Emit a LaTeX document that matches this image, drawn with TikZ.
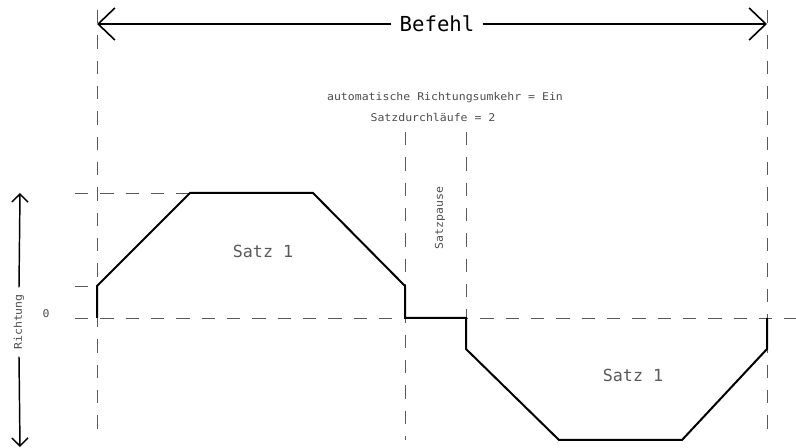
\documentclass[tikz,border=0pt]{standalone}
\usepackage{fontspec}
\newfontfamily\kleinschrift[FakeStretch=1.08]{DejaVu Sans Mono}
\newfontfamily\grossschrift{DejaVu Sans Mono}
\usetikzlibrary{arrows.meta}

\tikzset{
  hilfslinie/.style={draw=black!65, line width=0.6pt, dash pattern=on 10pt off 9pt},
  kurve/.style={line width=1.5pt, line join=miter},
  masspfeil/.style={line width=1.2pt, -{Straight Barb[length=12.5pt, width=24pt, line width=1.2pt]}},
  achspfeil/.style={line width=1.1pt, -{Straight Barb[length=6pt, width=12pt, line width=1.1pt]}},
  beschriftung/.style={text=black!70, font=\kleinschrift\fontsize{8}{9}\selectfont, inner sep=1pt},
  satzname/.style={text=black!65, font=\grossschrift\fontsize{12.5}{14}\selectfont},
}

\begin{document}
\begin{tikzpicture}[x=0.75pt, y=-0.75pt]

    \useasboundingbox (0,0) rectangle (796,448);

    % Hilfslinien senkrecht
    \draw[hilfslinie] (97,10) -- (97,440); % Befehlsanfang
    \draw[hilfslinie] (767,10) -- (767,440); % Befehlsende
    \draw[hilfslinie] (405,132) -- (405,440); % Ende Satz 1
    \draw[hilfslinie] (466,132) -- (466,318); % Ende Satzpause

    % Hilfslinien waagerecht
    \draw[hilfslinie] (75,193) -- (190,193); % obere Stufe
    \draw[hilfslinie] (75,286) -- (97,286); % untere Stufe
    \draw[hilfslinie] (75,318) -- (796,318); % Nulllinie

    % Verlauf
    \coordinate (p0) at (97,318);
    \coordinate (p1) at (97,286);
    \coordinate (p2) at (190,193);
    \coordinate (p3) at (313,193);
    \coordinate (p4) at (405,286);
    \coordinate (p5) at (405,318);
    \coordinate (p6) at (466,318);
    \coordinate (p7) at (466,349);
    \coordinate (p8) at (559,440);
    \coordinate (p9) at (682,440);
    \coordinate (p10) at (767,349);
    \coordinate (p11) at (767,318);
    \draw[kurve] (p0) -- (p1) -- (p2) -- (p3) -- (p4) -- (p5) -- (p6)
        -- (p7) -- (p8) -- (p9) -- (p10) -- (p11);

    % Befehl
    \node[font=\grossschrift\fontsize{15.5}{17}\selectfont, inner sep=6pt] (befehl) at (437,24) {Befehl};
    \coordinate (befehlanfang) at (97,24);
    \coordinate (befehlende) at (767,24);
    \draw[masspfeil] (befehl.west) -- (befehlanfang);
    \draw[masspfeil] (befehl.east) -- (befehlende);

    % Richtung
    \node[beschriftung, rotate=90, inner sep=5pt] (richtung) at (19,322) {Richtung};
    \coordinate (richtungoben) at (20,193);
    \coordinate (richtungunten) at (20,447);
    \draw[achspfeil] (richtung.east) -- (richtungoben);
    \draw[achspfeil] (richtung.west) -- (richtungunten);
    \node[beschriftung] (null) at (46,314) {0};

    % Texte
    \node[beschriftung] (umkehr) at (445,98) {automatische Richtungsumkehr = Ein};
    \node[beschriftung] (durchlaeufe) at (433,118) {Satzdurchläufe = 2};
    \node[beschriftung, rotate=90] (pause) at (440,218) {Satzpause};
    \node[satzname] (satzeins) at (263,251) {Satz 1};
    \node[satzname] (satzzwei) at (633,375) {Satz 1};

\end{tikzpicture}
\end{document}
